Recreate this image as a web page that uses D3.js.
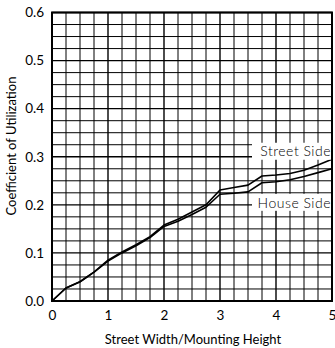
<!DOCTYPE html>
<html>
<head>
<meta charset="utf-8">
<script src="https://cdn.jsdelivr.net/npm/d3@7"></script>
<style>
  body { margin: 0; background: #fff; }
  svg { display: block; font-family: Lato, "Open Sans", sans-serif; }
</style>
</head>
<body>
<svg width="335" height="348"></svg>
<script>
// values
const ratio = [0, 0.25, 0.5, 0.75, 1, 1.25, 1.5, 1.75, 2, 2.25, 2.5, 2.75, 3, 3.25, 3.5, 3.75, 4, 4.25, 4.5, 4.75, 5]
const streetSide = [0, 0.027, 0.040, 0.060, 0.085, 0.102, 0.117, 0.134, 0.158, 0.170, 0.185, 0.200, 0.231, 0.236, 0.241, 0.260, 0.262, 0.265, 0.272, 0.283, 0.295]
const houseSide = [0, 0.027, 0.040, 0.060, 0.083, 0.100, 0.115, 0.132, 0.155, 0.166, 0.180, 0.195, 0.222, 0.224, 0.227, 0.246, 0.248, 0.252, 0.259, 0.267, 0.275]
const xTicks = [0, 1, 2, 3, 4, 5]
const yTicks = [0, 0.1, 0.2, 0.3, 0.4, 0.5, 0.6]
const seriesLabels = ['Street Side', 'House Side']

const svg = d3.select('svg')
const x = d3.scaleLinear().domain([0, 5]).range([52, 332])
const y = d3.scaleLinear().domain([0, 0.6]).range([301, 12.5])

// grid: minor every 0.25 / 0.025, heavier on the labelled values
const grid = svg.append('g').attr('stroke', '#000')
d3.range(0, 5.001, 0.25).forEach(v => {
  const major = Math.abs(v - Math.round(v)) < 1e-6
  grid.append('line')
    .attr('x1', x(v)).attr('x2', x(v))
    .attr('y1', y(0)).attr('y2', y(0.6))
    .attr('stroke-width', major ? 1.4 : 1)
})
d3.range(0, 0.6001, 0.025).forEach(v => {
  const major = Math.abs(v * 10 - Math.round(v * 10)) < 1e-6
  grid.append('line')
    .attr('x1', x(0)).attr('x2', x(5))
    .attr('y1', y(v)).attr('y2', y(v))
    .attr('stroke-width', major ? 1.4 : 1)
})

// frame
svg.append('rect')
  .attr('x', x(0)).attr('y', y(0.6))
  .attr('width', x(5) - x(0)).attr('height', y(0) - y(0.6))
  .attr('fill', 'none').attr('stroke', '#000').attr('stroke-width', 2)

// curves
const line = d3.line().x((d, i) => x(ratio[i])).y(d => y(d))
;[streetSide, houseSide].forEach(s => {
  svg.append('path')
    .attr('d', line(s))
    .attr('fill', 'none').attr('stroke', '#000').attr('stroke-width', 1.6)
    .attr('stroke-linejoin', 'round')
})

// series labels on white boxes
const labelPos = [[5, 0.3, -14, -1], [5, 0.2, -11, 3]]
seriesLabels.forEach((t, i) => {
  const [lx, ly, top, base] = labelPos[i]
  svg.append('rect')
    .attr('x', x(lx) - 80).attr('y', y(ly) + top)
    .attr('width', 79).attr('height', 17)
    .attr('fill', '#fff')
  svg.append('text')
    .attr('x', x(lx) - 1).attr('y', y(ly) + base)
    .attr('text-anchor', 'end')
    .attr('font-size', 14).attr('letter-spacing', 0.5)
    .attr('font-weight', 300)
    .text(t)
})

// axes (labels only)
const xAxis = svg.append('g')
  .attr('transform', `translate(0,${y(0)})`)
  .call(d3.axisBottom(x).tickValues(xTicks).tickFormat(d3.format('d')).tickSize(0).tickPadding(9))
const yAxis = svg.append('g')
  .attr('transform', `translate(${x(0)},0)`)
  .call(d3.axisLeft(y).tickValues(yTicks).tickFormat(d3.format('.1f')).tickSize(0).tickPadding(8))
;[xAxis, yAxis].forEach(a => {
  a.select('.domain').remove()
  a.selectAll('text').attr('font-size', 13.5).attr('fill', '#000').attr('font-family', 'Lato, sans-serif')
})

svg.append('text')
  .attr('x', 193).attr('y', 344)
  .attr('text-anchor', 'middle').attr('font-size', 13)
  .text('Street Width/Mounting Height')

svg.append('text')
  .attr('transform', 'translate(16,146) rotate(-90)')
  .attr('text-anchor', 'middle').attr('font-size', 13)
  .text('Coefficient of Utilization')
</script>
</body>
</html>
